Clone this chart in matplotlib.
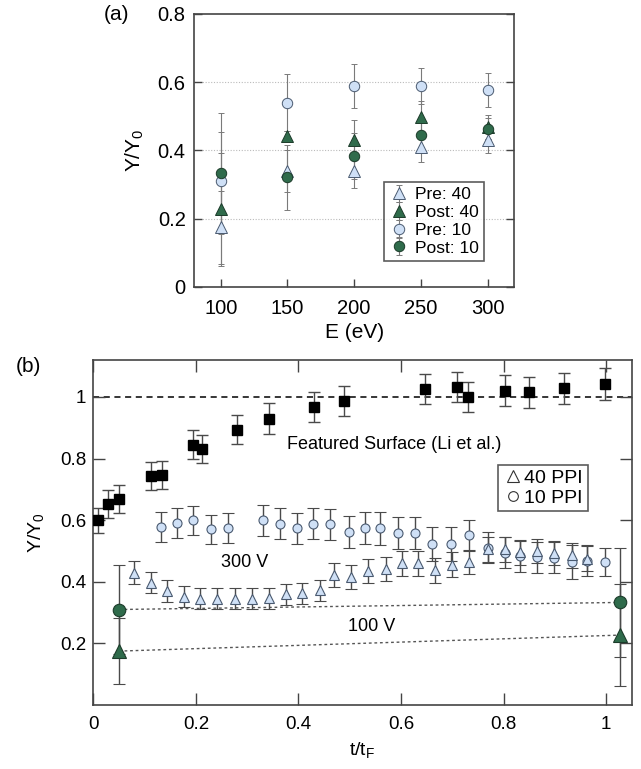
import matplotlib
matplotlib.use('Agg')
import matplotlib.pyplot as plt

plt.rcParams['font.family'] = ['Liberation Sans', 'DejaVu Sans']
plt.rcParams['mathtext.default'] = 'regular'

# panel (a): yield vs energy
energies = [100, 150, 200, 250, 300]
pre40 = [0.175, 0.34, 0.34, 0.409, 0.43]
pre40_err = [0.107, 0.062, 0.05, 0.043, 0.038]
post40 = [0.227, 0.442, 0.43, 0.499, 0.469]
post40_err = [0.165, 0.015, 0.058, 0.045, 0.035]
pre10 = [0.31, 0.54, 0.589, 0.589, 0.577]
pre10_err = [0.143, 0.083, 0.064, 0.054, 0.049]
post10 = [0.333, 0.321, 0.384, 0.446, 0.464]
post10_err = [0.178, 0.096, 0.067, 0.05, 0.03]

# panel (b): yield vs fluence time
sq_t = [0.009, 0.029, 0.051, 0.112, 0.134, 0.194, 0.212, 0.281, 0.343, 0.431,
        0.489, 0.647, 0.710, 0.731, 0.803, 0.850, 0.917, 0.997]
sq_y = [0.599, 0.652, 0.669, 0.743, 0.747, 0.845, 0.831, 0.894, 0.930, 0.968,
        0.987, 1.026, 1.032, 1.000, 1.020, 1.015, 1.028, 1.042]
sq_err = [0.042, 0.045, 0.045, 0.045, 0.045, 0.047, 0.047, 0.048, 0.049, 0.049,
          0.05, 0.05, 0.05, 0.05, 0.05, 0.05, 0.05, 0.051]

circ_t = [0.131, 0.164, 0.195, 0.229, 0.262, 0.331, 0.364, 0.397, 0.429, 0.462,
          0.498, 0.529, 0.560, 0.595, 0.628, 0.660, 0.697, 0.733, 0.770, 0.802,
          0.833, 0.866, 0.898, 0.933, 0.963, 0.997]
circ_y = [0.577, 0.590, 0.599, 0.570, 0.575, 0.599, 0.588, 0.574, 0.588, 0.586,
          0.562, 0.575, 0.573, 0.557, 0.559, 0.524, 0.524, 0.551, 0.511, 0.494,
          0.483, 0.480, 0.478, 0.464, 0.469, 0.464]
circ_err = [0.048, 0.048, 0.048, 0.048, 0.048, 0.05, 0.05, 0.05, 0.05, 0.05,
            0.052, 0.052, 0.052, 0.052, 0.052, 0.055, 0.055, 0.05, 0.05, 0.05,
            0.05, 0.05, 0.05, 0.055, 0.05, 0.045]

tri_t = [0.080, 0.112, 0.144, 0.176, 0.208, 0.242, 0.277, 0.310, 0.343, 0.375,
         0.407, 0.442, 0.469, 0.503, 0.536, 0.570, 0.601, 0.633, 0.667, 0.700,
         0.733, 0.770, 0.802, 0.833, 0.866, 0.899, 0.933, 0.963]
tri_y = [0.430, 0.397, 0.370, 0.352, 0.345, 0.345, 0.345, 0.345, 0.347, 0.359,
         0.362, 0.372, 0.422, 0.416, 0.435, 0.442, 0.460, 0.460, 0.437, 0.456,
         0.464, 0.505, 0.505, 0.496, 0.500, 0.494, 0.486, 0.475]
tri_err = [0.037, 0.035, 0.035, 0.034, 0.034, 0.034, 0.034, 0.034, 0.034, 0.035,
           0.035, 0.035, 0.038, 0.038, 0.038, 0.038, 0.04, 0.04, 0.04, 0.04,
           0.04, 0.04, 0.04, 0.04, 0.04, 0.04, 0.04, 0.04]

t_pre = 0.05
t_post = 1.028

light = '#cfe0f6'
light_edge = '#4a5a70'
green = '#2f6b4b'
green_edge = '#1c3b2a'
spine_col = '#444444'

fig = plt.figure(figsize=(6.41, 7.69), dpi=100)

# ---------- (a) ----------
ax1 = fig.add_axes([0.3027, 0.6272, 0.4996, 0.3546])
ebar_a = dict(ecolor='#7a7a7a', elinewidth=0.8, capsize=2.5, capthick=0.8, linestyle='none')
ax1.errorbar(energies, pre40, yerr=pre40_err, marker='^', ms=8, mfc=light, mec=light_edge, mew=0.7, label='Pre: 40', **ebar_a)
ax1.errorbar(energies, post40, yerr=post40_err, marker='^', ms=8, mfc=green, mec=green_edge, mew=0.7, label='Post: 40', **ebar_a)
ax1.errorbar(energies, pre10, yerr=pre10_err, marker='o', ms=7.5, mfc=light, mec=light_edge, mew=0.7, label='Pre: 10', **ebar_a)
ax1.errorbar(energies, post10, yerr=post10_err, marker='o', ms=7.5, mfc=green, mec=green_edge, mew=0.7, label='Post: 10', **ebar_a)
for gy in [0.2, 0.4, 0.6]:
    ax1.axhline(gy, color='#bbbbbb', lw=0.8, ls=(0, (1, 1.5)), zorder=0)
ax1.set_xlim(80, 320)
ax1.set_ylim(0, 0.8)
ax1.set_xticks(energies)
ax1.set_yticks([0, 0.2, 0.4, 0.6, 0.8])
ax1.set_yticklabels(['0', '0.2', '0.4', '0.6', '0.8'])
ax1.tick_params(direction='in', length=6, width=1, labelsize=14.5, color=spine_col, pad=6)
ax1.tick_params(axis='y', right=True)
ax1.tick_params(axis='x', pad=9)
for s in ax1.spines.values():
    s.set_color(spine_col)
    s.set_linewidth(1.2)
ax1.set_xlabel('E (eV)', fontsize=15)
ax1.xaxis.set_label_coords(0.5, -0.135, transform=ax1.transAxes)
ax1.xaxis.label.set_va('top')
ax1.set_ylabel('Y/Y$_0$', fontsize=15)
ax1.yaxis.set_label_coords(-0.15, 0.5, transform=ax1.transAxes)
leg1 = ax1.legend(loc='lower right', bbox_to_anchor=(0.905, 0.095), fontsize=12.5,
                  frameon=True, fancybox=False, edgecolor='#333333', borderpad=0.3,
                  labelspacing=0.15, handletextpad=0.3, handlelength=1.2, borderaxespad=0)
leg1.get_frame().set_linewidth(1.2)
fig.text(0.181, 0.981, '(a)', fontsize=15, ha='center', va='center')

# ---------- (b) ----------
ax2 = fig.add_axes([0.1456, 0.0832, 0.8400, 0.4487])
ebar_b = dict(ecolor='#4a4a4a', elinewidth=1.0, capsize=4, capthick=1.0, linestyle='none')
ax2.axhline(1.0, color='black', lw=1.1, ls=(0, (4, 3)), zorder=1)
ax2.plot([t_pre, t_post], [pre10[0], post10[0]], color='#555555', lw=1, ls=(0, (2, 2)), zorder=1)
ax2.plot([t_pre, t_post], [pre40[0], post40[0]], color='#555555', lw=1, ls=(0, (2, 2)), zorder=1)
ax2.errorbar(sq_t, sq_y, yerr=sq_err, marker='s', ms=6.5, mfc='black', mec='black', zorder=3, **ebar_b)
ax2.errorbar(circ_t, circ_y, yerr=circ_err, marker='o', ms=6.5, mfc=light, mec=light_edge, mew=0.8, zorder=3, **ebar_b)
ax2.errorbar(tri_t, tri_y, yerr=tri_err, marker='^', ms=7, mfc=light, mec=light_edge, mew=0.8, zorder=3, **ebar_b)
ax2.errorbar([t_pre], [pre10[0]], yerr=[pre10_err[0]], marker='o', ms=9, mfc=green, mec=green_edge, mew=0.8, zorder=4, **ebar_b)
ax2.errorbar([t_pre], [pre40[0]], yerr=[pre40_err[0]], marker='^', ms=9.5, mfc=green, mec=green_edge, mew=0.8, zorder=4, **ebar_b)
ax2.errorbar([t_post], [post10[0]], yerr=[post10_err[0]], marker='o', ms=9, mfc=green, mec=green_edge, mew=0.8, zorder=4, **ebar_b)
ax2.errorbar([t_post], [post40[0]], yerr=[post40_err[0]], marker='^', ms=9.5, mfc=green, mec=green_edge, mew=0.8, zorder=4, **ebar_b)

ax2.text(0.587, 0.846, 'Featured Surface (Li et al.)', fontsize=13, ha='center', va='center')
ax2.text(0.248, 0.463, '300 V', fontsize=13, ha='left', va='center')
ax2.text(0.497, 0.255, '100 V', fontsize=13, ha='left', va='center')

h40, = ax2.plot([], [], marker='^', ms=8, mfc='white', mec='#333333', mew=0.8, ls='none')
h10, = ax2.plot([], [], marker='o', ms=7, mfc='white', mec='#333333', mew=0.8, ls='none')
leg2 = ax2.legend([h40, h10], ['40 PPI', '10 PPI'], loc='upper left', bbox_to_anchor=(0.752, 0.697),
                  fontsize=14, frameon=True, fancybox=False, edgecolor='#333333', borderpad=0.25,
                  labelspacing=0.1, handletextpad=0.1, handlelength=1.0, borderaxespad=0)
leg2.get_frame().set_linewidth(1.2)

ax2.set_xlim(0, 1.05)
ax2.set_ylim(0, 1.12)
ax2.set_xticks([0, 0.2, 0.4, 0.6, 0.8, 1.0])
ax2.set_xticklabels(['0', '0.2', '0.4', '0.6', '0.8', '1'])
ax2.set_yticks([0.2, 0.4, 0.6, 0.8, 1.0])
ax2.set_yticklabels(['0.2', '0.4', '0.6', '0.8', '1'])
ax2.tick_params(direction='in', length=8.5, width=1, labelsize=13.5, color=spine_col, pad=5,
                top=True, right=True)
ax2.tick_params(axis='x', pad=8)
for s in ax2.spines.values():
    s.set_color(spine_col)
    s.set_linewidth(1.2)
ax2.set_xlabel('t/t$_F$', fontsize=14)
ax2.xaxis.set_label_coords(0.5, -0.1, transform=ax2.transAxes)
ax2.xaxis.label.set_va('top')
ax2.set_ylabel('Y/Y$_0$', fontsize=14)
ax2.yaxis.set_label_coords(-0.088, 0.5, transform=ax2.transAxes)
fig.text(0.045, 0.523, '(b)', fontsize=15, ha='center', va='center')

fig.savefig('out.png', dpi=100)
